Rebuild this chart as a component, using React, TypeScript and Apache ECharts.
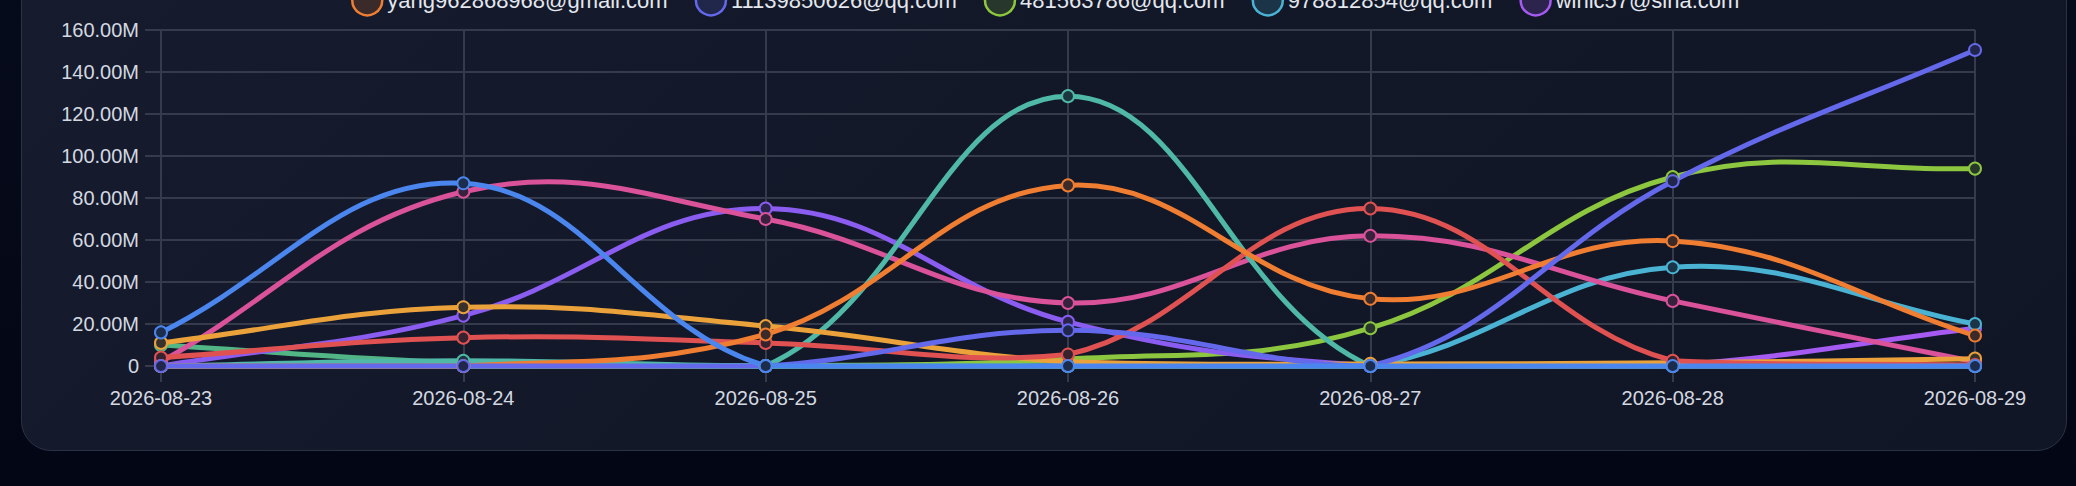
import React, { useEffect, useRef } from "react";
import * as echarts from "echarts";

// ---------- data ----------
const categories = ["2026-08-23", "2026-08-24", "2026-08-25", "2026-08-26", "2026-08-27", "2026-08-28", "2026-08-29"];

// values in millions
const blueValues = [16, 87, 0, 0, 0, 0, 0];
const greenValues = [10, 1.5, 0, 0, 0, 0, 0];
const amberValues = [11, 28, 19, 2, 1, 1.5, 3.5];
const redValues = [4, 13.5, 11, 5.5, 75, 2.5, 0.5];
const violetValues = [0, 24, 75, 21, 0, 0, 0];
const pinkValues = [2, 83, 70, 30, 62, 31, 2];
const tealValues = [0, 2.5, 0, 128.5, 0, 0, 0];
const orangeValues = [0, 0, 15, 86, 32, 59.5, 14.5];
const indigoValues = [0, 0, 0, 17, 0, 88, 150.5];
const limeValues = [0, 0, 0, 3.3, 18, 90, 94];
const cyanValues = [0, 0, 0, 0, 0, 47, 20];
const purpleValues = [0, 0, 0, 0, 0, 0.5, 18];

const seriesNames = [
  "account-01",
  "account-02",
  "account-03",
  "account-04",
  "account-05",
  "account-06",
  "account-07",
  "yang962868968@gmail.com",
  "11139850626@qq.com",
  "481563786@qq.com",
  "978812854@qq.com",
  "winlc57@sina.com",
];
const legendNames = seriesNames.slice(7);

const yMax = 160;
const yInterval = 20;

// ---------- styles ----------
const CARD_BG = "#121828";
const GRID_COLOR = "#353b4a";
const LABEL_COLOR = "#d4d8e0";
const FONT = "'Liberation Sans', Arial, Helvetica, sans-serif";
const LINE_WIDTH = 5;
const TENSION = 0.4;

function mix(hex: string, bg: string, a: number): string {
  const p = (h: string) => [1, 3, 5].map((i) => parseInt(h.slice(i, i + 2), 16));
  const c = p(hex);
  const b = p(bg);
  const r = c.map((v, i) => Math.round(v * a + b[i] * (1 - a)));
  return "#" + r.map((v) => v.toString(16).padStart(2, "0")).join("");
}

// draw order (later drawn on top)
const drawList = [
  { name: seriesNames[11], color: "#a55af2", data: purpleValues },
  { name: seriesNames[10], color: "#4ab3d3", data: cyanValues },
  { name: seriesNames[9], color: "#8dc63f", data: limeValues },
  { name: seriesNames[1], color: "#52b586", data: greenValues },
  { name: seriesNames[4], color: "#8a5cf0", data: violetValues },
  { name: seriesNames[5], color: "#d9529a", data: pinkValues },
  { name: seriesNames[6], color: "#4fb8a6", data: tealValues },
  { name: seriesNames[2], color: "#eca23a", data: amberValues },
  { name: seriesNames[3], color: "#e05252", data: redValues },
  { name: seriesNames[7], color: "#ef7d32", data: orangeValues },
  { name: seriesNames[8], color: "#6468ea", data: indigoValues },
  { name: seriesNames[0], color: "#4b86ee", data: blueValues },
];

const colorOf = (n: string) => drawList.find((d) => d.name === n)!.color;

// cardinal-style spline with control points kept inside the plot area
function splinePath(pts: number[][], area: { x: number; y: number; width: number; height: number }): string {
  const n = pts.length;
  const cpPrev: number[][] = [];
  const cpNext: number[][] = [];
  const clamp = (p: number[]) => [
    Math.min(Math.max(p[0], area.x), area.x + area.width),
    Math.min(Math.max(p[1], area.y), area.y + area.height),
  ];
  for (let i = 0; i < n; i++) {
    const prev = pts[i - 1] || pts[i];
    const cur = pts[i];
    const next = pts[i + 1] || pts[i];
    const d01 = Math.hypot(cur[0] - prev[0], cur[1] - prev[1]);
    const d12 = Math.hypot(next[0] - cur[0], next[1] - cur[1]);
    let s01 = d01 / (d01 + d12);
    let s12 = d12 / (d01 + d12);
    if (isNaN(s01)) s01 = 0;
    if (isNaN(s12)) s12 = 0;
    const fa = TENSION * s01;
    const fb = TENSION * s12;
    cpPrev.push(clamp([cur[0] - fa * (next[0] - prev[0]), cur[1] - fa * (next[1] - prev[1])]));
    cpNext.push(clamp([cur[0] + fb * (next[0] - prev[0]), cur[1] + fb * (next[1] - prev[1])]));
  }
  let d = `M${pts[0][0]},${pts[0][1]}`;
  for (let i = 1; i < n; i++) {
    const a = cpNext[i - 1];
    const b = cpPrev[i];
    d += ` C${a[0]},${a[1]} ${b[0]},${b[1]} ${pts[i][0]},${pts[i][1]}`;
  }
  return d;
}

export default function App() {
  const ref = useRef<HTMLDivElement>(null);

  useEffect(() => {
    if (!ref.current) return;
    const chart = echarts.init(ref.current, undefined, { renderer: "svg" });

    const curveSeries = drawList.map((d) => ({
      name: d.name,
      type: "custom",
      silent: true,
      encode: { x: 0, y: 1 },
      data: d.data.map((v, i) => [i, v]),
      renderItem: (params: any, api: any) => {
        if (params.dataIndex !== 0) return null;
        const pts = d.data.map((v, i) => api.coord([i, v]));
        return {
          type: "path",
          shape: { pathData: splinePath(pts, params.coordSys) },
          style: { fill: "none", stroke: d.color, lineWidth: LINE_WIDTH, lineJoin: "round", lineCap: "round" },
        };
      },
    }));

    const markerSeries = drawList.map((d) => ({
      name: d.name,
      type: "line",
      data: d.data,
      symbol: "circle",
      symbolSize: 12,
      showSymbol: true,
      lineStyle: { color: d.color, width: 0, opacity: 0 },
      itemStyle: { color: mix(d.color, CARD_BG, 0.18), borderColor: d.color, borderWidth: 2 },
      emphasis: { disabled: true },
    }));

    chart.setOption({
      animation: false,
      backgroundColor: "transparent",
      textStyle: { fontFamily: FONT },
      legend: {
        top: 39,
        left: 346,
        icon: "circle",
        itemWidth: 30,
        itemHeight: 30,
        itemGap: 27,
        textStyle: { color: "#e4e7ee", fontSize: 22, fontFamily: FONT },
        data: legendNames.map((n) => ({
          name: n,
          itemStyle: { color: mix(colorOf(n), CARD_BG, 0.18), borderColor: colorOf(n), borderWidth: 2.5 },
        })),
      },
      grid: { left: 161, right: 101, top: 90, bottom: 120, containLabel: false },
      xAxis: {
        type: "category",
        data: categories,
        boundaryGap: false,
        axisLine: { show: true, lineStyle: { color: GRID_COLOR, width: 2 } },
        axisTick: { show: true, length: 16, lineStyle: { color: GRID_COLOR, width: 2 } },
        splitLine: { show: true, lineStyle: { color: GRID_COLOR, width: 2 } },
        axisLabel: { color: LABEL_COLOR, fontSize: 20, margin: 22, fontFamily: FONT },
      },
      yAxis: {
        type: "value",
        min: 0,
        max: yMax,
        interval: yInterval,
        axisLine: { show: false },
        axisTick: { show: true, length: 16, lineStyle: { color: GRID_COLOR, width: 2 } },
        splitLine: { show: true, lineStyle: { color: GRID_COLOR, width: 2 } },
        axisLabel: {
          color: LABEL_COLOR,
          fontSize: 20,
          margin: 22,
          fontFamily: FONT,
          formatter: (v: number) => (v === 0 ? "0" : v.toFixed(2) + "M"),
        },
      },
      series: [...curveSeries, ...markerSeries],
    });
    return () => chart.dispose();
  }, []);

  return (
    <div
      style={{
        position: "fixed",
        left: 0,
        top: 0,
        width: 2076,
        height: 486,
        overflow: "hidden",
        background: "linear-gradient(180deg, #060b1b 0%, #030614 100%)",
      }}
    >
      <div
        style={{
          position: "absolute",
          left: 21,
          top: -60,
          width: 2046,
          height: 511,
          boxSizing: "border-box",
          border: "1.5px solid #2b3244",
          borderRadius: 30,
          background: "linear-gradient(135deg, #161c2e 0%, #121828 45%, #111626 100%)",
        }}
      />
      <div ref={ref} style={{ position: "absolute", left: 0, top: -60, width: 2076, height: 546 }} />
    </div>
  );
}
